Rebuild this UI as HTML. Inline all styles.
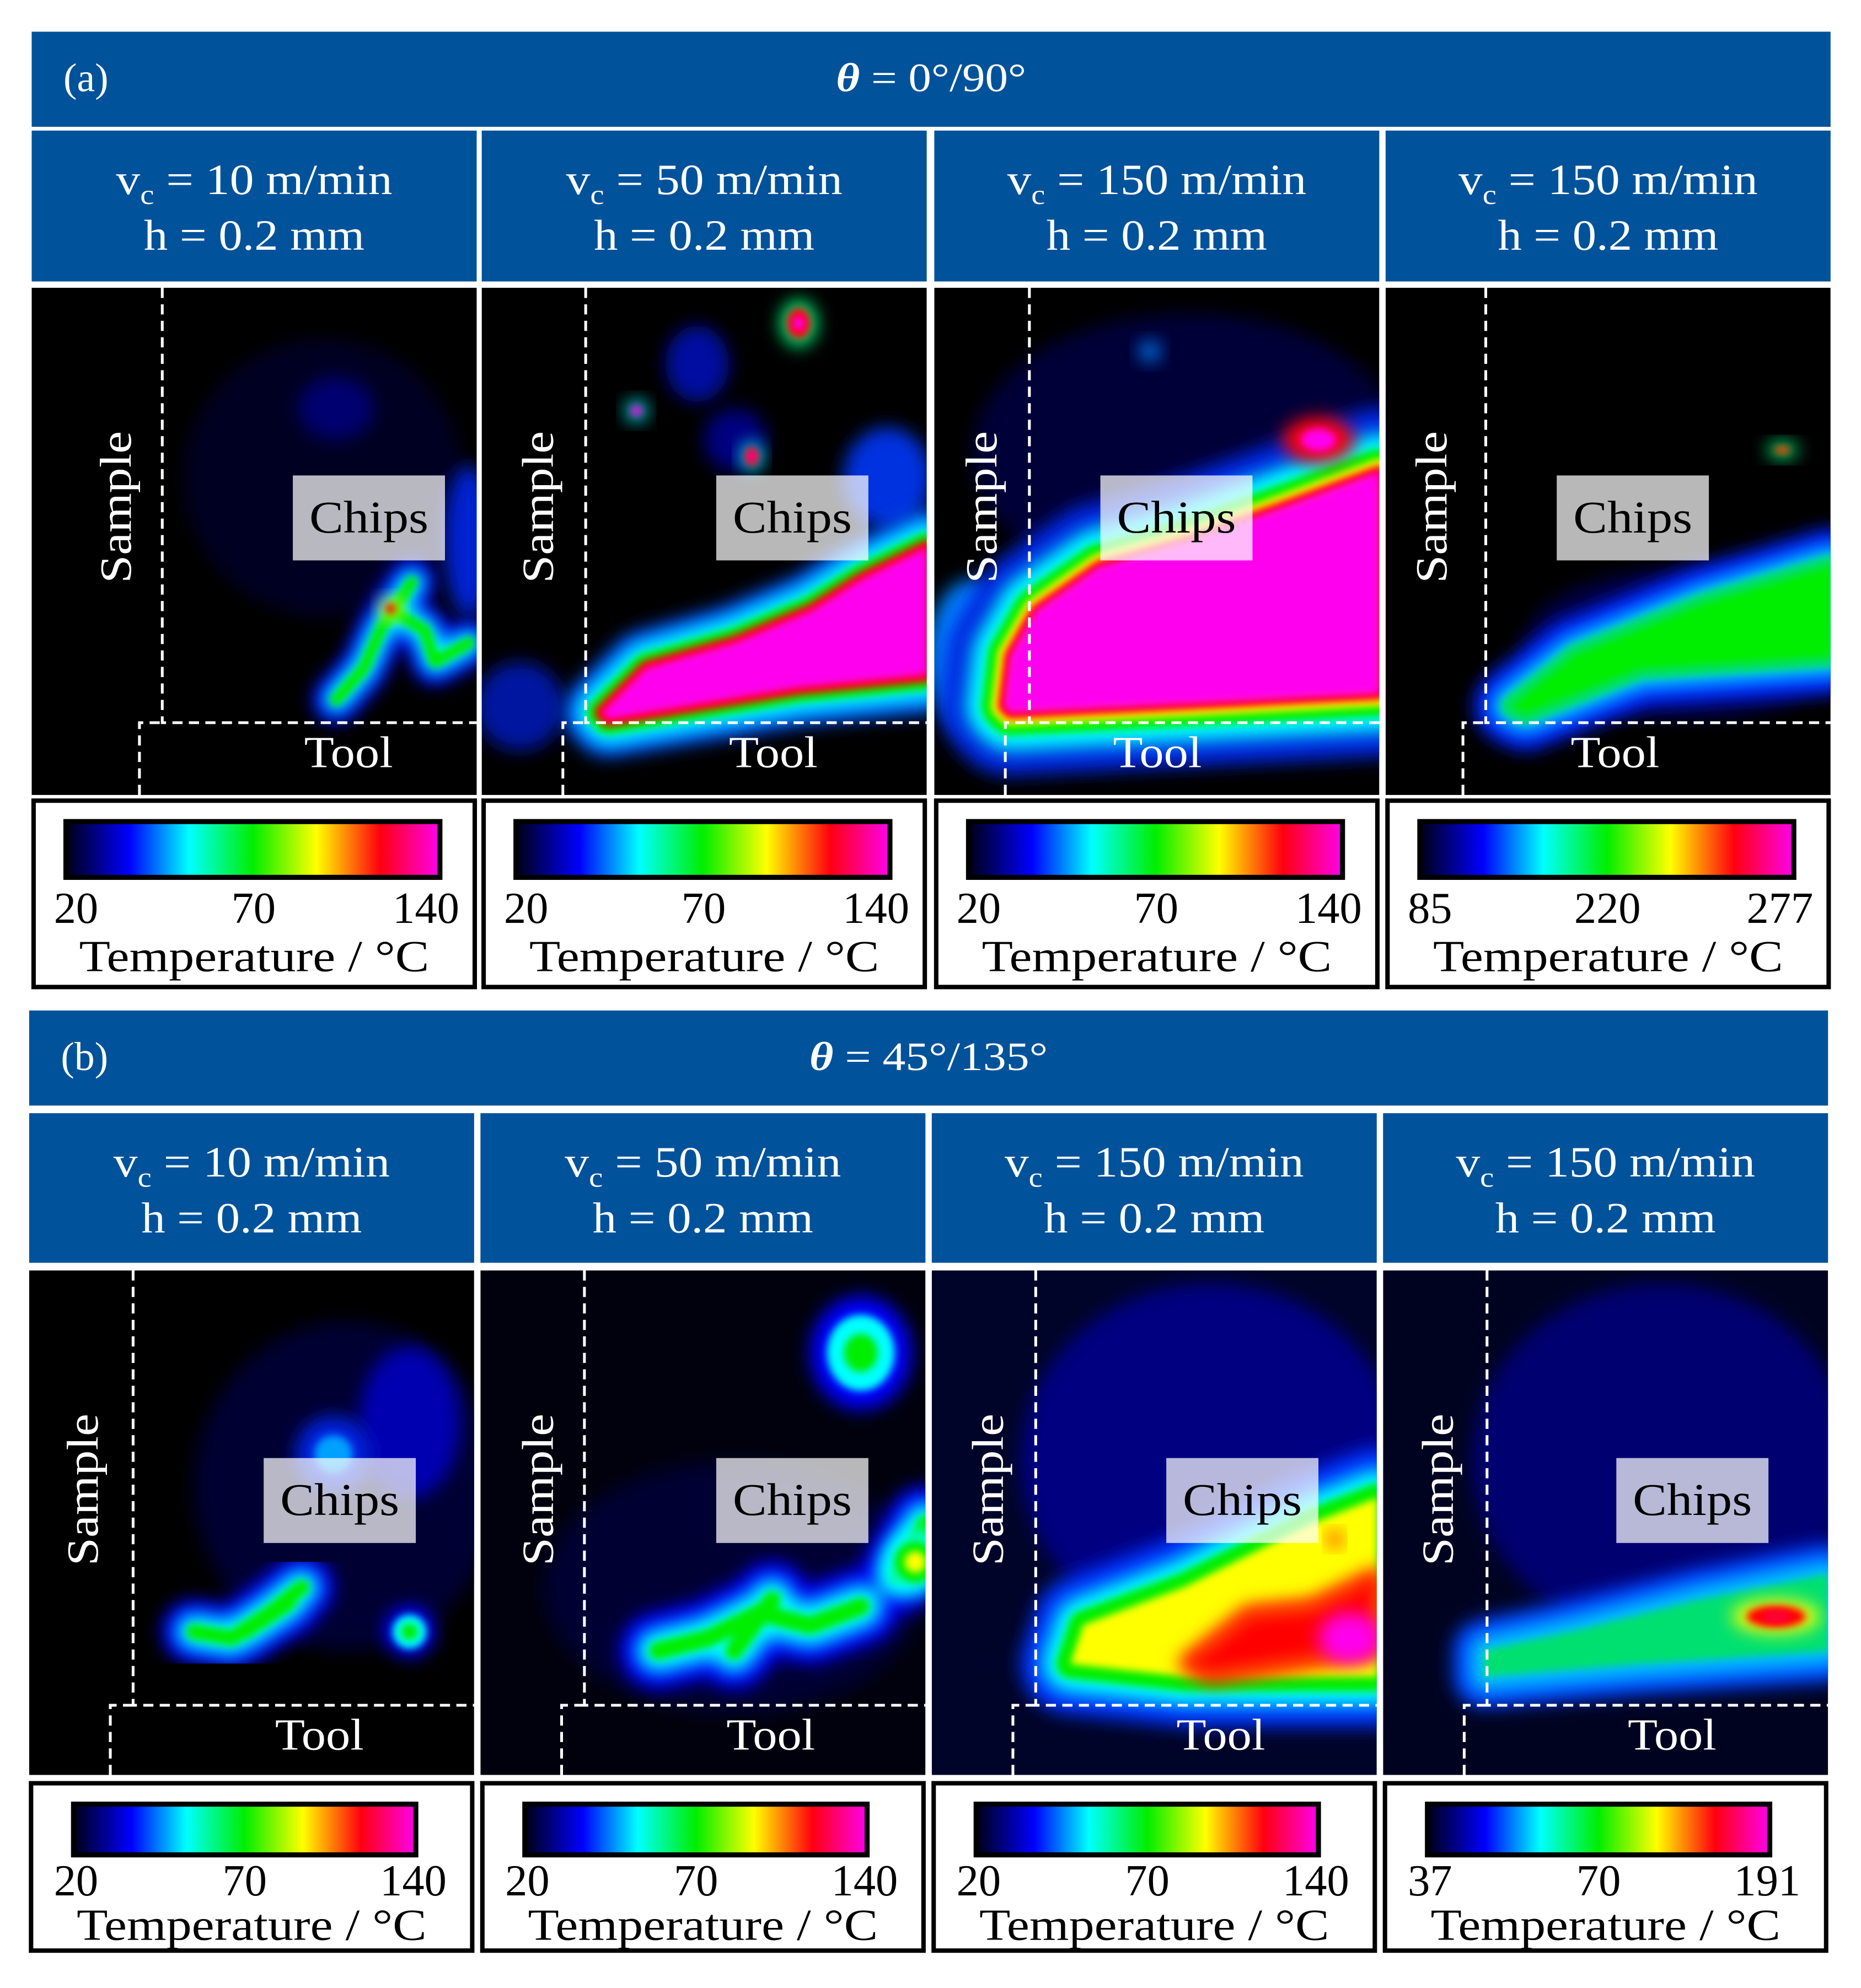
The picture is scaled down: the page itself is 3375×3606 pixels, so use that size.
<!DOCTYPE html>
<html><head><meta charset="utf-8">
<style>
html,body{margin:0;padding:0;background:#fff;}
svg{display:block;}
text{font-family:"Liberation Serif",serif;}
</style></head>
<body>
<svg id="fig" width="3375" height="3606" viewBox="0 0 1468 1568" preserveAspectRatio="none" xmlns="http://www.w3.org/2000/svg">
<defs>
<linearGradient id="cmap" x1="0" x2="1" y1="0" y2="0">
<stop offset="0" stop-color="#000014"/><stop offset="0.17" stop-color="#0000ff"/>
<stop offset="0.33" stop-color="#00ffff"/><stop offset="0.5" stop-color="#00ee00"/>
<stop offset="0.67" stop-color="#ffff00"/><stop offset="0.84" stop-color="#ff0010"/>
<stop offset="1" stop-color="#ff00ee"/>
</linearGradient>
<filter id="b8" x="-50%" y="-50%" width="200%" height="200%"><feGaussianBlur stdDeviation="7"/></filter>
<filter id="b3" x="-50%" y="-50%" width="200%" height="200%"><feGaussianBlur stdDeviation="3"/></filter>
</defs>
</svg>
<script>
const rowTitles = ["θ = 0°/90°", "θ = 45°/135°"];
const rowLetters = ["(a)", "(b)"];
const speeds = [10, 50, 150, 150];
const tickLabels = [["20","70","140"],["20","70","140"],["20","70","140"],["85","220","277"],
                    ["20","70","140"],["20","70","140"],["20","70","140"],["37","70","191"]];
const NS="http://www.w3.org/2000/svg";
const svg=document.getElementById('fig');
function el(tag,attrs,parent){const e=document.createElementNS(NS,tag);for(const k in attrs)e.setAttribute(k,attrs[k]);(parent||svg).appendChild(e);return e;}
function stretch(t,len){t.setAttribute('textLength',len);t.setAttribute('lengthAdjust','spacingAndGlyphs');}
const BLUE="#00529b";
const rows=[
 {top:25,hdrH:75,subTop:103,subH:119,imgTop:227,imgH:400,cbTop:630,cbH:150,cols:[25,380,737,1093],w:351,
  barY:648,barH:44,lblY:728,tmpY:766,barL:27,barW:295,lbl:[35,175,311]},
 {top:797,hdrH:75,subTop:878,subH:118,imgTop:1002,imgH:398,cbTop:1405,cbH:135,cols:[23,379,735,1091],w:351,
  barY:1423,barH:40,lblY:1495,tmpY:1530,barL:35,barW:270,lbl:[37,170,303]}
];
const dash=[[103,85],[82,64],[75,56],[79,61],[82,64],[82,64],[82,64],[82,64]];
const samplesX=[67,45,38,37,43,46,45,44];
const chipsX=[206,185,131,135,185,186,185,184];
const toolX=[250,230,176,181,229,229,228,228];
const bgs=["#000","#000","#000","#000","#000","#00010c","#000428","#000320"];
function layers(g,d,cols,ws,fillLast){
  cols.forEach((c,i)=>{const p=el('path',{d:d,fill:(i==cols.length-1&&fillLast)?c:'none',stroke:c,'stroke-width':ws[i],'stroke-linejoin':'round','stroke-linecap':'round',filter:i<2?'url(#b8)':'url(#b3)'},g);
   });
}
function blob(g,cx,cy,rx,ry,cols){
  cols.forEach((c,i)=>{const k=1-i/cols.length;const e=el('ellipse',{cx:cx,cy:cy,rx:rx*k,ry:ry*k,fill:c,filter:i==0?'url(#b8)':'url(#b3)'},g);
   });
}
const painters=[
 g=>{blob(g,230,150,110,110,["#000020"]);blob(g,240,95,30,25,["#000070"]);
   layers(g,"M240,325 L262,300 L275,270 L285,255 L300,232 M285,255 L310,270 L318,295 L345,280",["#0000ff","#00ffff","#00ee00"],[36,20,9],false);
   blob(g,283,253,8,8,["#ffff00","#ff0000"]);blob(g,345,200,20,60,["#0020d0"]);},
 g=>{blob(g,30,330,35,35,["#0018a0"]);blob(g,170,60,25,30,["#0010a0"]);blob(g,200,120,25,25,["#000080"]);blob(g,320,150,35,40,["#0030e0"]);
   layers(g,"M95,335 L130,300 L200,280 L260,255 L300,230 L351,205 L351,305 L250,315 L100,340 Z",["#0050ff","#00ffff","#00ee00","#ff0000","#ff00ee"],[60,40,24,12,1],true);
   blob(g,250,28,14,18,["#00ff80","#ff0000","#ff00ee"]);blob(g,122,97,8,8,["#00ffff","#ff00ee"]);blob(g,213,133,8,11,["#00ffff","#ff0000","#ff00ee"]);},
 g=>{blob(g,200,130,170,110,["#000038"]);blob(g,30,290,35,60,["#0080ff"]);
   layers(g,"M55,330 L60,290 L80,255 L130,220 L200,200 L270,175 L351,145 L351,320 L60,335 Z",["#0028e0","#00ffff","#00ee00","#ffff00","#ff0000","#ff00ee"],[100,60,36,20,10,1],true);
   blob(g,303,120,28,18,["#ff0000","#ff00ee"]);blob(g,170,50,8,8,["#0080ff"]);},
 g=>{blob(g,240,280,130,60,["#000040"]);
   layers(g,"M100,330 L150,290 L250,250 L351,220 L351,290 L200,300 L110,335 Z",["#0020ff","#00d0ff","#00e060","#00ee00"],[60,32,18,1],true);
   blob(g,313,128,12,6,["#00ff80","#ff4000"]);},
 g=>{blob(g,250,170,120,130,["#000030"]);blob(g,300,120,40,60,["#0000b0"]);
   layers(g,"M130,285 L160,290 L190,270 L215,250 M170,285 L205,262",["#0000ff","#00ffff","#00ee00"],[50,28,12],false);
   blob(g,300,285,20,20,["#0000ff","#00ffff","#00ee00"]);blob(g,240,145,30,30,["#0020e0","#00a0ff"]);},
 g=>{blob(g,200,250,150,100,["#000030"]);blob(g,300,65,40,45,["#0000ff","#00ffff","#00ee00"]);
   layers(g,"M140,300 L180,290 L220,270 L260,280 L300,265 M200,300 L230,260 M330,240 L351,200",["#0000ff","#00ffff","#00ee00"],[60,34,14],false);
   blob(g,343,230,25,25,["#00ffff","#00ee00","#ffff00"]);},
 g=>{blob(g,220,150,150,140,["#000080"]);
   layers(g,"M120,280 L200,250 L300,200 L351,180 L351,320 L200,320 L110,310 Z",["#0030ff","#00ffff","#00ee00","#ffff00"],[80,46,24,1],true);
   layers(g,"M200,310 L250,270 L300,265 L351,240 L351,300 L220,320 Z",["#ff4000","#ff0000"],[12,1],true);
   blob(g,330,290,25,20,["#ff00ee"]);blob(g,318,212,5,6,["#ff0000"]);},
 g=>{blob(g,220,150,150,140,["#000070"]);
   layers(g,"M80,300 L150,285 L250,260 L351,240 L351,300 L200,310 L80,320 Z",["#0040ff","#00c0ff","#00e070"],[50,24,1],true);
   blob(g,310,273,35,13,["#ffff00","#ff0000","#ff0040"]);}
];
rows.forEach((r,ri)=>{
  const full=r.cols[3]+r.w-r.cols[0];
  const h=el('rect',{x:r.cols[0],y:r.top,width:full,height:r.hdrH,fill:BLUE});
  
  const lt=el('text',{x:r.cols[0]+25,y:r.top+47,'font-size':32,fill:'#fff'});lt.textContent=rowLetters[ri];
  
  const tt=el('text',{x:r.cols[0]+full/2,y:r.top+47,'font-size':32,fill:'#fff','text-anchor':'middle'});
  tt.innerHTML='<tspan font-style="italic" font-weight="bold">θ</tspan>'+rowTitles[ri].slice(1);
  stretch(tt,ri==0?150:188);
  
  r.cols.forEach((x,ci)=>{
    const pi=ri*4+ci;
    const s=el('rect',{x:x,y:r.subTop,width:r.w,height:r.subH,fill:BLUE});
    
    const t1=el('text',{x:x+r.w/2,y:r.subTop+50,'font-size':34,fill:'#fff','text-anchor':'middle'});
    t1.innerHTML='v<tspan font-size="22" dy="8">c</tspan><tspan dy="-8"> = '+speeds[ci]+' m/min</tspan>';
    stretch(t1,speeds[ci]>99?236:218);
    
    const t2=el('text',{x:x+r.w/2,y:r.subTop+94,'font-size':34,fill:'#fff','text-anchor':'middle'});t2.textContent='h = 0.2 mm';
    stretch(t2,174);
    
    const g=el('g',{transform:`translate(${x},${r.imgTop})`});
    
    const cp=el('clipPath',{id:'cp'+pi},g);
    el('rect',{width:r.w,height:r.imgH},cp);
    const inner=el('g',{'clip-path':`url(#cp${pi})`},g);
    el('rect',{width:r.w,height:r.imgH,fill:bgs[pi]},inner);
    painters[pi](inner);
    const [vx,cx]=dash[pi];
    const dl=el('path',{d:`M${vx},0 V343 H${r.w} M${cx},${r.imgH} V343 H${vx}`,fill:'none',stroke:'#fff','stroke-width':2.2,'stroke-dasharray':'8 5'},g);
    
    const sp=el('text',{transform:`translate(${samplesX[pi]+11},173) rotate(-90)`,'font-size':35,fill:'#fff','text-anchor':'middle'},g);sp.textContent='Sample';
    stretch(sp,120);
    
    const cb=el('rect',{x:chipsX[pi],y:148,width:120,height:67,fill:'#fff','fill-opacity':0.72},g);
    
    const ct=el('text',{x:chipsX[pi]+60,y:193,'font-size':36,fill:'#000','text-anchor':'middle'},g);ct.textContent='Chips';
    stretch(ct,94);
    
    const tl=el('text',{x:toolX[pi],y:378,'font-size':35,fill:'#fff','text-anchor':'middle'},g);tl.textContent='Tool';
    stretch(tl,70);
    
    const bx=el('rect',{x:x+1.5,y:r.cbTop+1.5,width:r.w-3,height:r.cbH-3,fill:'#fff',stroke:'#000','stroke-width':3.5});
    
    const bar=el('rect',{x:x+r.barL,y:r.barY,width:r.barW,height:r.barH,fill:'url(#cmap)',stroke:'#000','stroke-width':4});
    
    tickLabels[pi].forEach((lab,k)=>{
      const tk=el('text',{x:x+r.lbl[k],y:r.lblY,'font-size':35,fill:'#000','text-anchor':'middle'});tk.textContent=lab;
      
    });
    const tp=el('text',{x:x+r.w/2,y:r.tmpY,'font-size':35,fill:'#000','text-anchor':'middle'});tp.textContent='Temperature / °C';
    stretch(tp,276);
    
  });
});
</script>
</body></html>
